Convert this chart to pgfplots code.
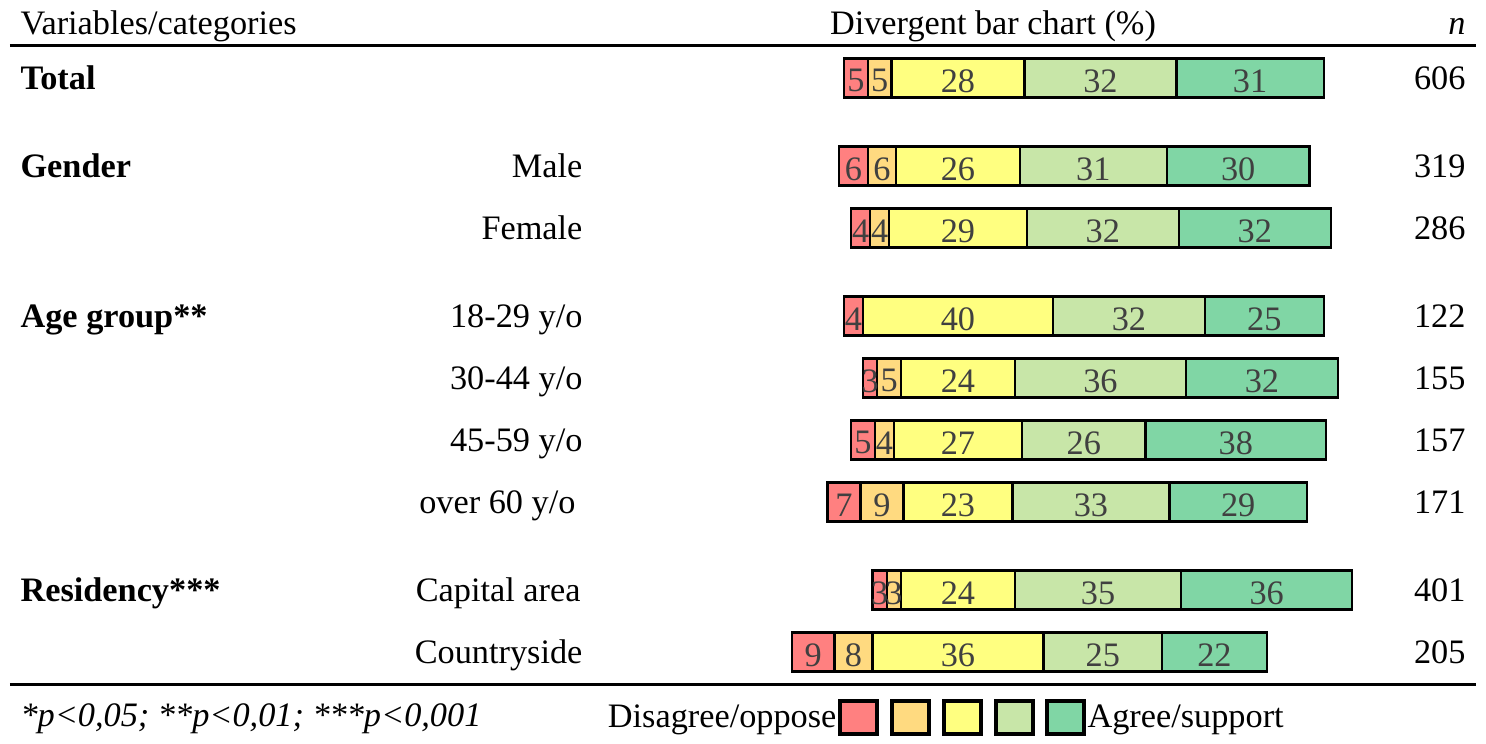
\documentclass[border=0pt]{standalone}
\usepackage{fontspec}
\setmainfont{Liberation Serif}
\usepackage{pgfplots}
\usepackage{pgfplotstable}
\pgfplotsset{compat=1.18}

\definecolor{cRed}{RGB}{255,128,128}
\definecolor{cOra}{RGB}{255,218,128}
\definecolor{cYel}{RGB}{255,255,128}
\definecolor{cLgr}{RGB}{200,230,168}
\definecolor{cGrn}{RGB}{128,214,165}
\definecolor{numgray}{RGB}{64,64,64}

% y = row position (px from top), off = invisible shift so that the neutral part is centred
\pgfplotstableread{
y   off   d1 d2 neu a1 a2
78  26    5  5  28  32 31
166 25    6  6  26  31 30
228 27.5  4  4  29  32 32
316 26    4  0  40  32 25
378 30    3  5  24  36 32
440 27.5  5  4  27  26 38
502 22.5  7  9  23  33 29
590 32    3  3  24  35 36
652 15    9  8  36  25 22
}\bars

\newcommand{\fs}{\fontsize{12pt}{14pt}\selectfont}

\begin{document}
\begin{tikzpicture}[font=\fs]
\begin{axis}[
    scale only axis,
    width=520.1pt, height=260.4pt,
    xmin=-151.68, xmax=161.16,
    ymin=0, ymax=744, y dir=reverse,
    hide axis, clip=false,
    xbar stacked, bar width=39,
    point meta=explicit,
    /pgf/number format/assume math mode=true,
    nodes near coords={\pgfmathfloatifflags{\pgfplotspointmeta}{0}{}{\pgfmathprintnumber{\pgfplotspointmeta}}},
    every node near coord/.append style={font=\fs, text=numgray, inner sep=0pt, yshift=-1pt},
]
\addplot[draw=none, fill=none, nodes near coords={}] table[x=off, y=y, meta=off] {\bars};
\addplot[draw=black, line width=0.85pt, fill=cRed] table[x=d1, y=y, meta=d1] {\bars};
\addplot[draw=black, line width=0.85pt, fill=cOra] table[x=d2, y=y, meta=d2] {\bars};
\addplot[draw=black, line width=0.85pt, fill=cYel] table[x=neu, y=y, meta=neu] {\bars};
\addplot[draw=black, line width=0.85pt, fill=cLgr] table[x=a1, y=y, meta=a1] {\bars};
\addplot[draw=black, line width=0.85pt, fill=cGrn] table[x=a2, y=y, meta=a2] {\bars};
\end{axis}

\begin{scope}[x=0.35pt, y=-0.35pt, shift={(0,260.4pt)}, every node/.style={inner sep=0pt}]
\path (0,0) rectangle (1486,744);
% header
\node[anchor=base west] at (20,35) {Variables/categories};
\node[anchor=base] at (993,35) {Divergent bar chart (\%)};
\node[anchor=base east] at (1466,35) {\textit{n}};
\draw[line width=1.05pt] (10,46) -- (1476,46);
% row labels
\node[anchor=base west] at (20,89.5) {\textbf{Total}};
\node[anchor=base west] at (20,177.5) {\textbf{Gender}};
\node[anchor=base west] at (20,327.5) {\textbf{Age group**}};
\node[anchor=base west] at (20,601.5) {\textbf{Residency***}};
\node[anchor=base east] at (583,177.5) {Male};
\node[anchor=base east] at (583,239.5) {Female};
\node[anchor=base east] at (583,327.5) {18-29 y/o};
\node[anchor=base east] at (583,389.5) {30-44 y/o};
\node[anchor=base east] at (583,451.5) {45-59 y/o};
\node[anchor=base east] at (576,513.5) {over 60 y/o};
\node[anchor=base east] at (581,601.5) {Capital area};
\node[anchor=base east] at (583,663.5) {Countryside};
% n
\node[anchor=base east] at (1466,89.5) {606};
\node[anchor=base east] at (1466,177.5) {319};
\node[anchor=base east] at (1466,239.5) {286};
\node[anchor=base east] at (1466,327.5) {122};
\node[anchor=base east] at (1466,389.5) {155};
\node[anchor=base east] at (1466,451.5) {157};
\node[anchor=base east] at (1466,513.5) {171};
\node[anchor=base east] at (1466,601.5) {401};
\node[anchor=base east] at (1466,663.5) {205};
% footer
\draw[line width=1.05pt] (10,685) -- (1476,685);
\node[anchor=base west] at (20,727) {\textit{*p<0,05; **p<0,01; ***p<0,001}};
\node[anchor=base east] at (837,728) {Disagree/oppose};
\node[anchor=base west] at (1087,728) {Agree/support};
\foreach \a/\b/\c in {840/877/cRed, 892/929/cOra, 944/981/cYel, 996/1033/cLgr, 1047/1084/cGrn}
  \draw[line width=1.2pt, fill=\c] (\a,701) rectangle (\b,734);
\end{scope}
\end{tikzpicture}
\end{document}
